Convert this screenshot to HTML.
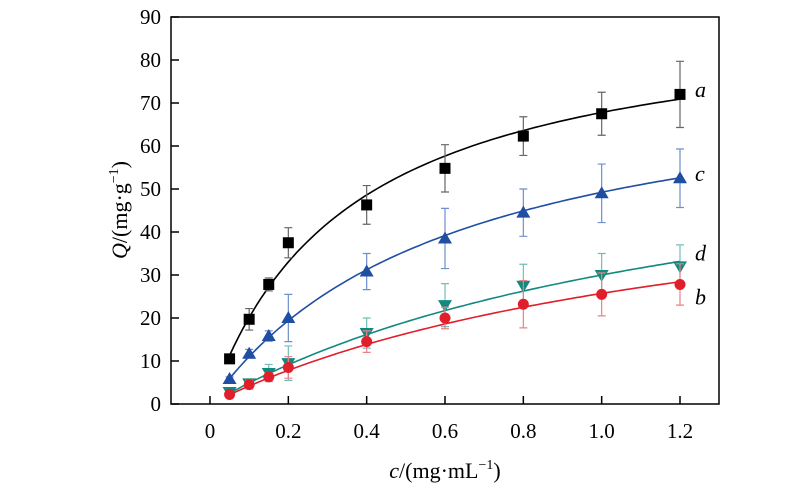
<!DOCTYPE html>
<html><head><meta charset="utf-8"><style>
body{margin:0;background:#fff}
svg{display:block;font-family:"Liberation Serif",serif}
</style></head><body>
<svg id="chart" width="800" height="493" viewBox="0 0 800 493" xmlns="http://www.w3.org/2000/svg"></svg>
<script>
const xs=[0.05,0.1,0.15,0.2,0.4,0.6,0.8,1.0,1.2];
const qa=[10.5,19.7,27.8,37.5,46.3,54.8,62.3,67.5,72];
const ea=[0.5,2.5,1.5,3.5,4.5,5.5,4.5,5,7.7];
const qc=[5.8,11.7,15.8,20,30.8,38.5,44.5,49,52.5];
const ec=[0.5,1,1.2,5.5,4.2,7,5.5,6.8,6.8];
const qd=[2.8,4.8,7.2,9.5,16.5,23,27.5,30,32];
const ed=[0.5,1,2,4,3.5,5,5,5,5];
const qb=[2.2,4.5,6.3,8.5,14.5,20,23.2,25.5,27.8];
const eb=[0.5,1,1,2.5,2.5,2.5,5.5,5,4.8];
const fitQm=[92,80,70,60];
const fitK=[2.8,1.6,0.75,0.75];
const xTicks=[0,0.2,0.4,0.6,0.8,1.0,1.2];
const xTickLabels=["0","0.2","0.4","0.6","0.8","1.0","1.2"];
const yTicks=[0,10,20,30,40,50,60,70,80,90];

const NS="http://www.w3.org/2000/svg";
const svg=document.getElementById('chart');
const L=171,R=719,T=17,B=404,X0=210,XS=(680-210)/1.2;
const X=v=>X0+v*XS, Y=v=>B-(B-T)*v/90;
function el(tag,attrs,parent){const e=document.createElementNS(NS,tag);for(const k in attrs)e.setAttribute(k,attrs[k]);(parent||svg).appendChild(e);return e;}

const frame=el('rect',{x:L,y:T,width:R-L,height:B-T,fill:'none',stroke:'#000','stroke-width':1.5});



xTicks.forEach((t,i)=>{
  const ln=el('line',{x1:X(t),x2:X(t),y1:B,y2:B-8,stroke:'#000','stroke-width':1.5});
  
  
  const tx=el('text',{x:X(t),y:B+34,'text-anchor':'middle','font-size':21});
  tx.textContent=xTickLabels[i];
  
  
});
yTicks.forEach(t=>{
  const ln=el('line',{x1:L,x2:L+8,y1:Y(t),y2:Y(t),stroke:'#000','stroke-width':1.5});
  
  
  const tx=el('text',{x:L-10,y:Y(t)+7,'text-anchor':'end','font-size':21});
  tx.textContent=String(t);
  
  
});

const xt=el('text',{x:445,y:478,'text-anchor':'middle','font-size':22});
xt.innerHTML='<tspan font-style="italic">c</tspan>/(mg·mL<tspan dy="-9" font-size="14">−1</tspan><tspan dy="9">)</tspan>';


const yt=el('text',{x:0,y:0,'text-anchor':'middle','font-size':22,transform:'translate(127,210) rotate(-90)'});
yt.innerHTML='<tspan font-style="italic">Q</tspan>/(mg·g<tspan dy="-9" font-size="14">−1</tspan><tspan dy="9">)</tspan>';



const series=[
 {name:'a',q:qa,e:ea,col:'#000',ecol:'#666',m:'square',lab:'a',ly:qa[8]+1},
 {name:'c',q:qc,e:ec,col:'#1f4ea3',ecol:'#6f8fcc',m:'tri',lab:'c',ly:qc[8]+1},
 {name:'d',q:qd,e:ed,col:'#12897e',ecol:'#6fc0b6',m:'tridown',lab:'d',ly:qd[8]+3},
 {name:'b',q:qb,e:eb,col:'#e01f2b',ecol:'#ec8088',m:'circle',lab:'b',ly:qb[8]-3},
];
const fitIdx={a:0,c:1,d:2,b:3};
series.forEach(s=>{
  const g=el('g',{});
  
  
  const qm=fitQm[fitIdx[s.name]],k=fitK[fitIdx[s.name]];
  let d='';
  for(let i=0;i<=100;i++){const c=0.05+(1.2-0.05)*i/100;const q=qm*k*c/(1+k*c);d+=(i?'L':'M')+X(c).toFixed(1)+' '+Y(q).toFixed(1);}
  const p=el('path',{d,fill:'none',stroke:s.col,'stroke-width':1.6},g);
  
  
  xs.forEach((x,i)=>{
    const cx=X(x),y1=Y(s.q[i]+s.e[i]),y2=Y(s.q[i]-s.e[i]);
    const eg=el('path',{d:`M${cx} ${y1}V${y2}M${cx-4} ${y1}H${cx+4}M${cx-4} ${y2}H${cx+4}`,stroke:s.ecol,'stroke-width':1.2,fill:'none'},g);
    
    
  });
  xs.forEach((x,i)=>{
    const cx=X(x),cy=Y(s.q[i]);let m;
    if(s.m==='square')m=el('rect',{x:cx-5.5,y:cy-5.5,width:11,height:11,fill:s.col},g);
    else if(s.m==='circle')m=el('circle',{cx,cy,r:5.5,fill:s.col},g);
    else if(s.m==='tri')m=el('path',{d:`M${cx} ${cy-7}L${cx+7} ${cy+5}L${cx-7} ${cy+5}Z`,fill:s.col},g);
    else m=el('path',{d:`M${cx} ${cy+7}L${cx+7} ${cy-5}L${cx-7} ${cy-5}Z`,fill:s.col},g);
    
    
  });
  const t=el('text',{x:X(1.2)+15,y:Y(s.ly)+7,'font-size':22,'font-style':'italic'});
  t.textContent=s.lab;
  
  
});
</script>
</body></html>
